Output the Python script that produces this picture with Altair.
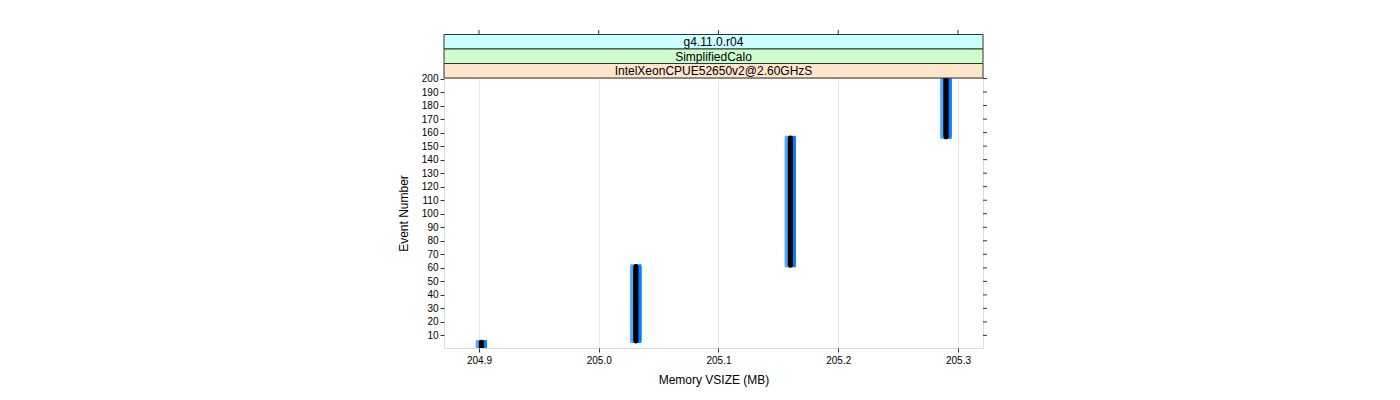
import altair as alt
import pandas as pd

# ---- data ----
group_mem = [204.902, 205.031, 205.160, 205.290]   # Memory VSIZE (MB) per step
group_first = [1, 6, 62, 157]                       # first event at that size
group_last = [5, 61, 156, 200]                      # last event at that size
x_ticks = [204.9, 205.0, 205.1, 205.2, 205.3]
y_ticks = list(range(10, 201, 10))
strip_labels = ["g4.11.0.r04", "SimplifiedCalo", "IntelXeonCPUE52650v2@2.60GHzS"]
strip_colors = ["#CCFFFF", "#CCFFCC", "#FFE5CC"]

rows = []
for m, a, b in zip(group_mem, group_first, group_last):
    for ev in range(a, b + 1):
        rows.append({"mem": m, "event": ev})
df = pd.DataFrame(rows)

W, H = 539, 270
FONT = "Liberation Sans"
xs = alt.Scale(domain=[204.8708, 205.3209], nice=False, zero=False)
ys = alt.Scale(domain=[0.7, 200.4], nice=False, zero=False)

xaxis = alt.Axis(values=x_ticks, format=".1f", grid=True, gridColor="#E6E6E6",
                 domain=False, tickSize=4, tickColor="#333333", labelPadding=3,
                 labelFontSize=10, labelFont=FONT, labelFlush=False, labelOverlap=False,
                 title="Memory VSIZE (MB)", titleFont=FONT, titleFontSize=12,
                 titleFontWeight="normal", titlePadding=9, titleColor="#000000",
                 labelColor="#000000")
yaxis = alt.Axis(values=y_ticks, format="d", grid=False, domain=False, tickSize=4,
                 tickColor="#333333", labelPadding=2, labelFontSize=10, labelFont=FONT,
                 labelFlush=False, labelOverlap=False, labelBound=False,
                 title="Event Number", titleFont=FONT, titleFontSize=12,
                 titleFontWeight="normal", titlePadding=11, titleColor="#000000",
                 labelColor="#000000")

base = alt.Chart(df)

blue_left = base.mark_point(shape="M-1,-0.4H-0.3V0.4H-1Z", filled=True, size=121,
                            color="#55AAFF", opacity=1, clip=True).encode(
    x=alt.X("mem:Q", scale=xs, axis=xaxis),
    y=alt.Y("event:Q", scale=ys, axis=yaxis))
blue_right = base.mark_point(shape="M-0.3,-0.4H1V0.4H-0.3Z", filled=True, size=121,
                             color="#0080FF", opacity=1, clip=True).encode(
    x=alt.X("mem:Q", scale=xs, axis=xaxis), y=alt.Y("event:Q", scale=ys, axis=yaxis))
black = base.mark_circle(size=26, color="#000000", opacity=1, clip=True).encode(
    x=alt.X("mem:Q", scale=xs, axis=xaxis), y=alt.Y("event:Q", scale=ys, axis=yaxis))

# top ticks (above strips) and right ticks, lattice style
top_ticks = alt.Chart(pd.DataFrame({"mem": x_ticks})).mark_rule(color="#333333").encode(
    x=alt.X("mem:Q", scale=xs, axis=xaxis), y=alt.value(-48), y2=alt.value(-43.5))
right_ticks = alt.Chart(pd.DataFrame({"event": y_ticks})).mark_rule(color="#333333").encode(
    y=alt.Y("event:Q", scale=ys, axis=yaxis), x=alt.value(W), x2=alt.value(W + 4))

strip_layers = []
strip_h = 14.5
for i, (lab, col) in enumerate(zip(strip_labels, strip_colors)):
    top = -3 * strip_h + i * strip_h
    sdf = pd.DataFrame({"label": [lab]})
    strip_layers.append(alt.Chart(sdf).mark_rect(fill=col, stroke="#333333", strokeWidth=1).encode(
        x=alt.value(0), x2=alt.value(W), y=alt.value(top), y2=alt.value(top + strip_h)))
    strip_layers.append(alt.Chart(sdf).mark_text(font=FONT, fontSize=12, color="#000000",
                                                 align="center", baseline="middle").encode(
        text="label:N", x=alt.value(W / 2), y=alt.value(top + strip_h / 2 + 0.5)))

chart = alt.layer(blue_left, blue_right, black, top_ticks, right_ticks, *strip_layers).properties(
    width=W, height=H,
    padding={"left": 436, "top": 70, "right": 30, "bottom": 40},
    autosize=alt.AutoSizeParams(type="none"),
).configure_view(stroke="#888888", strokeWidth=1).configure(background="white")

chart.save("out.html", embed_options={"renderer": "svg", "actions": False})
